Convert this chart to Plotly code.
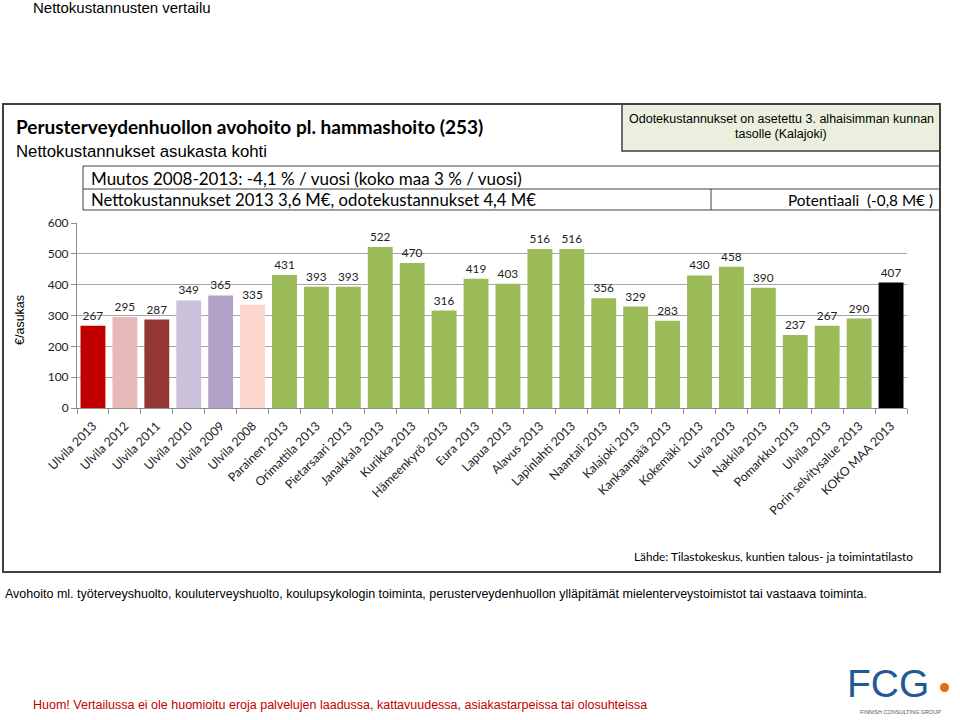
import plotly.graph_objects as go

categories = ["Ulvila 2013", "Ulvila 2012", "Ulvila 2011", "Ulvila 2010", "Ulvila 2009",
              "Ulvila 2008", "Parainen 2013", "Orimattila 2013", "Pietarsaari 2013",
              "Janakkala 2013", "Kurikka 2013", "Hämeenkyrö 2013", "Eura 2013",
              "Lapua 2013", "Alavus 2013", "Lapinlahti 2013", "Naantali 2013",
              "Kalajoki 2013", "Kankaanpää 2013", "Kokemäki 2013", "Luvia 2013",
              "Nakkila 2013", "Pomarkku 2013", "Ulvila 2013", "Porin selvitysalue 2013",
              "KOKO MAA 2013"]
values = [267, 295, 287, 349, 365, 335, 431, 393, 393, 522, 470, 316, 419, 403,
          516, 516, 356, 329, 283, 430, 458, 390, 237, 267, 290, 407]
GREEN = "#9bbb59"
bar_colors = ["#c00000", "#e6b9b8", "#953735", "#ccc1da", "#b3a2c7", "#fcd5cc"] + \
             [GREEN] * 19 + ["#000000"]
y_ticks = [0, 100, 200, 300, 400, 500, 600]

W, H = 960, 720


def px(x):
    return x / W


def py(y):
    return 1 - y / H


x_pos = list(range(len(categories)))

fig = go.Figure()
fig.add_trace(go.Bar(
    x=x_pos, y=values,
    marker=dict(color=bar_colors, line=dict(width=0)),
    width=0.78,
    text=[str(v) for v in values],
    textposition="outside",
    textfont=dict(family="Lato", size=11.8, color="#222222"),
    cliponaxis=False,
    hoverinfo="skip",
))

shapes = []
LC = "#404040"
# outer frame
shapes.append(dict(type="rect", xref="paper", yref="paper", x0=px(3), x1=px(940),
                   y0=py(572), y1=py(104), line=dict(color=LC, width=2)))
# note box
shapes.append(dict(type="rect", xref="paper", yref="paper", x0=px(622), x1=px(940),
                   y0=py(151), y1=py(104), fillcolor="#ebf0de", line=dict(color=LC, width=1.5),
                   layer="below"))
# table
shapes.append(dict(type="rect", xref="paper", yref="paper", x0=px(83), x1=px(940),
                   y0=py(210), y1=py(166), line=dict(color=LC, width=1)))
shapes.append(dict(type="line", xref="paper", yref="paper", x0=px(83), x1=px(940),
                   y0=py(189), y1=py(189), line=dict(color=LC, width=1)))
shapes.append(dict(type="line", xref="paper", yref="paper", x0=px(711), x1=px(711),
                   y0=py(189), y1=py(210), line=dict(color=LC, width=1)))
# logo dot
shapes.append(dict(type="circle", xref="paper", yref="paper", x0=px(940), x1=px(949),
                   y0=py(692), y1=py(683), fillcolor="#e46c0a", line=dict(width=0)))

ann = []


def txt(x, y, s, size, family="Liberation Sans", color="#000000", xanchor="left",
        bold=False, angle=0):
    ann.append(dict(x=px(x), y=py(y), xref="paper", yref="paper", text=("<b>%s</b>" % s) if bold else s,
                    showarrow=False, xanchor=xanchor, yanchor="middle", textangle=angle,
                    font=dict(family=family, size=size, color=color)))


txt(31, 8, "Nettokustannusten vertailu", 15)
txt(14, 126, "Perusterveydenhuollon avohoito pl. hammashoito (253)", 19, family="Lato", bold=True)
txt(14, 151, "Nettokustannukset asukasta kohti", 16.8)
txt(781, 119, "Odotekustannukset on asetettu 3. alhaisimman kunnan", 12.5, xanchor="center")
txt(781, 134, "tasolle (Kalajoki)", 12.5, xanchor="center")
txt(89, 178, "Muutos 2008-2013: -4,1 % / vuosi (koko maa 3 % / vuosi)", 17, family="Lato")
txt(89, 200, "Nettokustannukset 2013 3,6 M€, odotekustannukset 4,4 M€", 16.7, family="Lato")
txt(935, 200, "Potentiaali  (-0,8 M€ )", 15.3, family="Lato", xanchor="right")
txt(20, 320, "€/asukas", 12.5, angle=-90, xanchor="center")
txt(915, 556, "Lähde: Tilastokeskus, kuntien talous- ja toimintatilasto", 11.8, family="Lato",
    xanchor="right")
txt(3, 594, "Avohoito ml. työterveyshuolto, kouluterveyshuolto, koulupsykologin toiminta, "
    "perusterveydenhuollon ylläpitämät mielenterveystoimistot tai vastaava toiminta.", 12.5)
txt(31, 705, "Huom! Vertailussa ei ole huomioitu eroja palvelujen laadussa, kattavuudessa, "
    "asiakastarpeissa tai olosuhteissa", 12.5, color="#c00000")
txt(845, 683, "FCG", 39, family="Liberation Sans", color="#1f5a96")
txt(900, 712, "FINNISH CONSULTING GROUP", 5.5, color="#555555", xanchor="center")

fig.update_layout(
    width=W, height=H, autosize=False,
    margin=dict(l=0, r=0, t=0, b=0, pad=0, autoexpand=False),
    paper_bgcolor="white", plot_bgcolor="white",
    showlegend=False,
    hovermode=False,
    shapes=shapes,
    annotations=ann,
    xaxis=dict(
        domain=[px(77), px(907)],
        range=[-0.5, len(categories) - 0.5],
        tickmode="array", tickvals=x_pos, ticktext=categories,
        tickangle=-45, automargin=False,
        ticklabelstandoff=5,
        tickfont=dict(family="Lato", size=12.3, color="#222222"),
        showline=True, linecolor="#8c8c8c", linewidth=1,
        ticks="", showgrid=False, zeroline=False,
        minor=dict(tickmode="linear", tick0=-0.5, dtick=1, ticks="outside",
                   ticklen=5, tickcolor="#8c8c8c", showgrid=False),
        fixedrange=True,
    ),
    yaxis=dict(
        domain=[py(408), py(223)],
        range=[0, 600], automargin=False,
        tickmode="array", tickvals=y_ticks,
        tickfont=dict(family="Lato", size=12, color="#222222"),
        showgrid=True, gridcolor="#a6a6a6", gridwidth=1,
        showline=True, linecolor="#8c8c8c", linewidth=1,
        ticks="outside", ticklen=5, tickcolor="#8c8c8c",
        zeroline=False,
        fixedrange=True,
    ),
)

fig.write_html("out.html", config={"displayModeBar": False, "staticPlot": True},
               post_script="document.body.style.margin='0';document.body.style.overflow='hidden';")
